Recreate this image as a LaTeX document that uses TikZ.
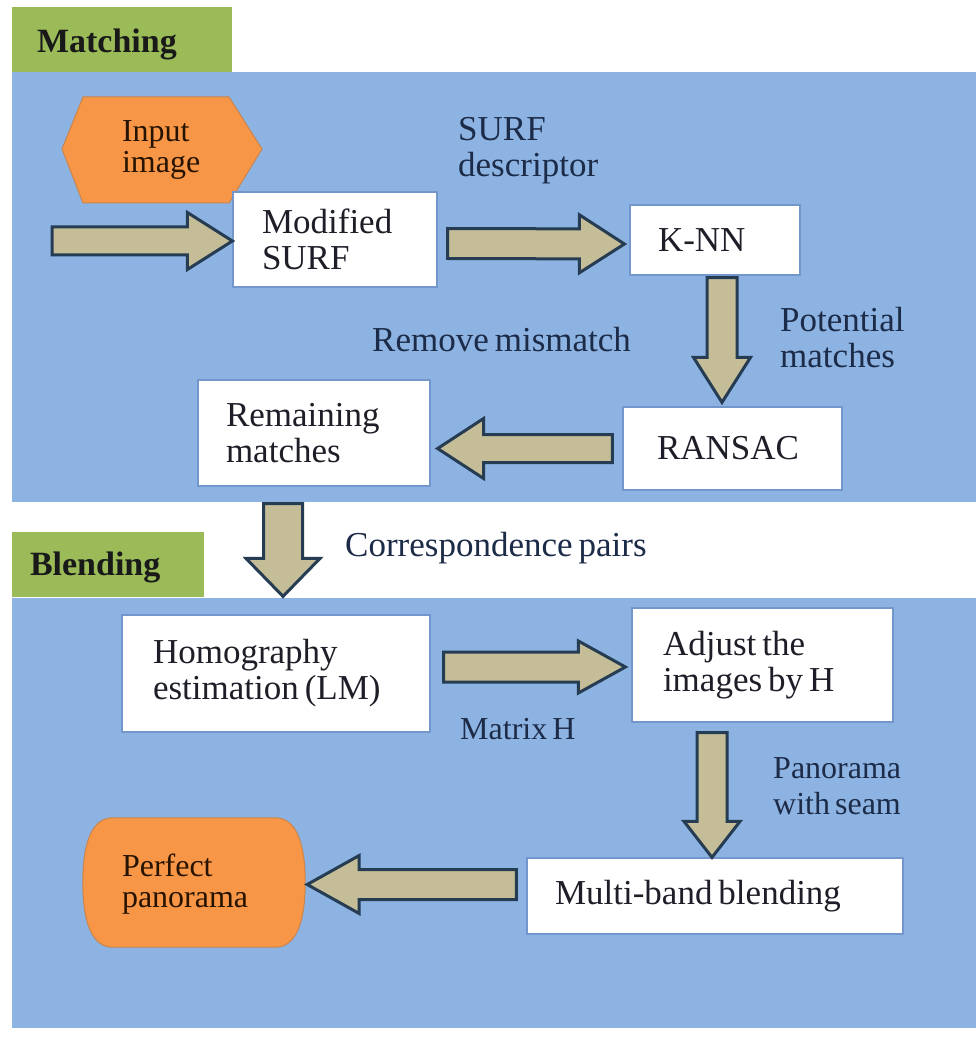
\documentclass[tikz,border=0pt]{standalone}
\usepackage{fontspec}
\setmainfont{Liberation Serif}
\usetikzlibrary{calc}
\pgfdeclarelayer{bg}
\pgfdeclarelayer{mid}
\pgfsetlayers{bg,mid,main}
\definecolor{panelblue}{HTML}{8DB3E2}
\definecolor{labgreen}{HTML}{9BBB59}
\definecolor{orng}{HTML}{F79646}
\definecolor{orgedge}{HTML}{C98550}
\definecolor{khaki}{HTML}{C4BD97}
\definecolor{arrline}{HTML}{263C52}
\definecolor{boxedge}{HTML}{7396CC}
\definecolor{boxtxt}{HTML}{1E1E28}
\definecolor{labtxt}{HTML}{1C2B48}
\newcommand\dgfont{\fontsize{35}{36}\selectfont\spaceskip=6pt plus 2pt\relax}
\newcommand\dgbold{\fontsize{34}{36}\selectfont\bfseries}
\newcommand\orfont{\fontsize{32}{31}\selectfont}
\newcommand\smfont{\fontsize{32}{36}\selectfont\spaceskip=5pt plus 2pt\relax}
% #1 tail, #2 tip, #3 shaft half width, #4 head half width, #5 head length (pt)
\newcommand\blockarrow[5]{%
  \path #1 coordinate (ba-a);
  \path #2 coordinate (ba-b);
  \coordinate (ba-c) at ($(ba-b)!#5pt!(ba-a)$);
  \draw[barrow] ($(ba-a)!#3pt!90:(ba-b)$) -- ($(ba-c)!#3pt!90:(ba-b)$)
    -- ($(ba-c)!#4pt!90:(ba-b)$) -- (ba-b) -- ($(ba-c)!#4pt!-90:(ba-b)$)
    -- ($(ba-c)!#3pt!-90:(ba-b)$) -- ($(ba-a)!#3pt!-90:(ba-b)$) -- cycle;}
\begin{document}
\begin{tikzpicture}[x=1pt,y=-1pt,
  wbox/.style={rectangle, fill=white, draw=boxedge, line width=1.2pt, inner ysep=0pt, align=left, text=boxtxt, font=\dgfont,
    execute at begin node={\spaceskip=6pt plus 2pt\relax}},
  lbl/.style={anchor=west, inner sep=0pt, align=left, text=labtxt, font=\dgfont},
  glabel/.style={rectangle, fill=labgreen, inner ysep=0pt, align=left, font=\dgbold, text=black!90},
  otext/.style={rectangle, inner ysep=0pt, align=left, font=\orfont, text=black!85!orange},
  barrow/.style={fill=khaki, draw=arrline, line width=3pt, line join=miter}]
\useasboundingbox (0,0) rectangle (976,1040);
\begin{pgfonlayer}{bg}
  \fill[white] (0,0) rectangle (976,1040);
  \fill[panelblue] (12,72) rectangle (976,502);
  \fill[panelblue] (12,598) rectangle (976,1028);
\end{pgfonlayer}

% section labels
\node[glabel, inner xsep=25pt, text width=170pt, minimum height=65pt, text height=30pt, text depth=3pt] (matching) at (122,39.5) {Matching};
\node[glabel, inner xsep=18pt, text width=156pt, minimum height=65pt, text height=28pt, text depth=7pt] (blending) at (108,564.5) {Blending};

% process boxes
\node[otext, inner xsep=0pt, text width=88pt, minimum height=106pt] (input) at (166,150) {Input\\image};
\node[wbox, inner xsep=29pt, text width=146pt, minimum height=95pt] (msurf) at (335,239.5) {Modified\\SURF};
\node[wbox, inner xsep=28pt, text width=114pt, minimum height=70pt] (knn) at (715,240) {K-NN};
\node[wbox, inner xsep=34pt, text width=151pt, minimum height=83pt] (ransac) at (732.5,448.5) {RANSAC};
\node[wbox, inner xsep=28pt, text width=176pt, minimum height=106pt] (remaining) at (314,433) {Remaining\\matches};
\node[wbox, inner xsep=31pt, text width=246pt, minimum height=117pt] (homo) at (276,673.5) {Homography\\estimation (LM)};
\node[wbox, inner xsep=31pt, text width=199pt, minimum height=114pt] (adjust) at (762.5,665) {Adjust the\\images by H};
\node[wbox, inner xsep=28pt, text width=320pt, minimum height=76pt] (multi) at (715,896) {Multi-band blending};
\node[otext, inner xsep=39pt, text width=144pt, minimum height=129pt, text height=22pt, text depth=35pt] (perfect) at (194,882.5) {Perfect\\panorama};

% orange shapes
\begin{pgfonlayer}{mid}
  \filldraw[fill=orng, draw=orgedge, line width=1pt]
    (62,149) -- (83,97) -- (229,97) -- (262,149) -- (229,203) -- (83,203) -- cycle;
  \filldraw[fill=orng, draw=orgedge, line width=1pt]
    ($(perfect.north west)+(30,0)$) -- ($(perfect.north east)+(-30,0)$)
    .. controls ($(perfect.north east)+(-10,0)$) and ($(perfect.east)+(0,-42)$) .. (perfect.east)
    .. controls ($(perfect.east)+(0,42)$) and ($(perfect.south east)+(-10,0)$) .. ($(perfect.south east)+(-30,0)$)
    -- ($(perfect.south west)+(30,0)$)
    .. controls ($(perfect.south west)+(10,0)$) and ($(perfect.west)+(0,42)$) .. (perfect.west)
    .. controls ($(perfect.west)+(0,-42)$) and ($(perfect.north west)+(10,0)$) .. cycle;
\end{pgfonlayer}

% connector labels
\node[lbl] (surfdesc) at (458,151) {SURF\\descriptor};
\node[lbl] (potm) at (780,338) {Potential\\matches};
\node[lbl] (remmis) at (372,340) {Remove mismatch};
\node[lbl] (corr) at (345,548) {Correspondence pairs};
\node[lbl, font=\smfont] (matH) at (460,729) {Matrix H};
\node[lbl, font=\smfont] (panseam) at (773,786) {Panorama\\with seam};

% block arrows
\coordinate (instart) at (52,241);
\blockarrow{(instart)}{(instart -| msurf.west)}{14}{28.5}{45}
\blockarrow{($(msurf.east)+(10,4)$)}{($(knn.west)+(-5,4)$)}{15}{29}{45}
\blockarrow{($(knn.south)+(7,2)$)}{($(ransac.north)+(-10.5,-4)$)}{15}{28.5}{45}
\blockarrow{($(ransac.west)+(-10,0)$)}{($(remaining.east |- ransac.west)+(7,0)$)}{14}{30}{46}
\blockarrow{($(remaining.south)+(-31,17)$)}{($(homo.north)+(7,-18)$)}{19.5}{37}{38}
\blockarrow{($(homo.east |- adjust.west)+(13,2)$)}{($(adjust.west)+(-6,2)$)}{15}{26}{47}
\blockarrow{($(adjust.south -| multi.north)+(-3,10)$)}{($(multi.north)+(-3,0)$)}{15}{28}{36}
\blockarrow{($(multi.west |- perfect.east)+(-10,2)$)}{($(perfect.east)+(2,2)$)}{15}{29}{52}
\end{tikzpicture}
\end{document}
